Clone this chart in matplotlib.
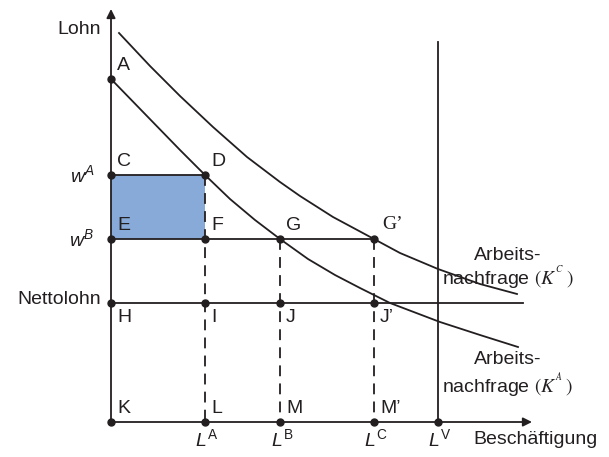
import matplotlib
matplotlib.use("Agg")
import matplotlib.pyplot as plt
from matplotlib.patches import Rectangle

plt.rcParams["font.family"] = ["Liberation Sans", "DejaVu Sans"]
plt.rcParams["mathtext.fontset"] = "custom"
plt.rcParams["mathtext.rm"] = "Liberation Sans"
plt.rcParams["mathtext.it"] = "Liberation Sans:italic"
plt.rcParams["mathtext.bf"] = "Liberation Sans:bold"

# employment levels and wages
L_A, L_B, L_C, L_V = 94, 169, 263, 327
w_A, w_B, w_netto = 247, 183, 119
w_top = 343  # point A

# labour demand curves (employment, wage)
demand_A_L = [0, 34, 69, 94, 119, 144, 169, 197, 224, 249, 279, 329, 369, 407]
demand_A_w = [343, 308, 272, 247, 223, 202, 183, 163, 147, 134, 119, 100, 87, 75]
demand_C_L = [8, 39, 69, 102, 136, 169, 189, 222, 263, 289, 327, 369, 406]
demand_C_w = [389, 356, 326, 295, 265, 240, 226, 205, 183, 169, 153, 138, 128]

x_end, y_end = 421, 413
netto_end = 412
lv_top = 380

ink = "#231f20"
fill = "#87aad8"

fig = plt.figure(figsize=(6.09, 4.57), dpi=100)
ax = fig.add_axes([0, 0, 1, 1])
ax.set_xlim(-111, 498)
ax.set_ylim(-35, 422)
ax.axis("off")

lw = 1.3
fs = 14

# shaded area
ax.add_patch(Rectangle((0, w_B), L_A, w_A - w_B, facecolor=fill, edgecolor="none", zorder=1))

# axes with arrows
ax.annotate("", xy=(0, y_end), xytext=(0, -1), arrowprops=dict(arrowstyle="-|>", lw=lw, color=ink, mutation_scale=13, shrinkA=0, shrinkB=0))
ax.annotate("", xy=(x_end, 0), xytext=(-1, 0), arrowprops=dict(arrowstyle="-|>", lw=lw, color=ink, mutation_scale=13, shrinkA=0, shrinkB=0))

# demand curves
ax.plot(demand_A_L, demand_A_w, color=ink, lw=lw, zorder=3)
ax.plot(demand_C_L, demand_C_w, color=ink, lw=lw, zorder=3)

# horizontal lines
ax.plot([0, L_A], [w_A, w_A], color=ink, lw=lw, zorder=3)
ax.plot([0, L_C], [w_B, w_B], color=ink, lw=lw, zorder=3)
ax.plot([0, netto_end], [w_netto, w_netto], color=ink, lw=lw, zorder=3)

# vertical supply line
ax.plot([L_V, L_V], [0, lv_top], color=ink, lw=lw, zorder=3)

# dashed lines
dash = (0, (6, 4))
ax.plot([L_A, L_A], [w_A, 0], color=ink, lw=lw, ls=dash, zorder=2)
ax.plot([L_B, L_B], [w_B, 0], color=ink, lw=lw, ls=dash, zorder=2)
ax.plot([L_C, L_C], [w_B, 0], color=ink, lw=lw, ls=dash, zorder=2)

# points
pts_x = [0, 0, L_A, 0, L_A, L_B, L_C, 0, L_A, L_B, L_C, 0, L_A, L_B, L_C, L_V]
pts_y = [w_top, w_A, w_A, w_B, w_B, w_B, w_B, w_netto, w_netto, w_netto, w_netto, 0, 0, 0, 0, 0]
ax.plot(pts_x, pts_y, "o", color=ink, ms=5, zorder=5)

# point labels (above right)
above = [("A", 0, w_top), ("C", 0, w_A), ("D", L_A, w_A), ("E", 0, w_B), ("F", L_A, w_B),
         ("G", L_B, w_B), ("K", 0, 0), ("L", L_A, 0), ("M", L_B, 0), ("M’", L_C, 0)]
for name, x, y in above:
    ax.text(x + 6, y + 5, name, fontsize=fs, color=ink, ha="left", va="bottom")
ax.text(L_C + 8, w_B + 6, "G’", fontsize=fs, color=ink, ha="left", va="bottom",
        family=["Liberation Serif", "DejaVu Serif"])
below = [("H", 0, w_netto), ("I", L_A, w_netto), ("J", L_B, w_netto), ("J’", L_C, w_netto)]
for name, x, y in below:
    ax.text(x + 6, y - 6, name, fontsize=fs, color=ink, ha="left", va="top")

# axis labels
ax.text(-10, 392, "Lohn", fontsize=fs, color=ink, ha="right", va="center")
ax.text(-16, w_A, r"$w^{A}$", fontsize=fs, color=ink, ha="right", va="center")
ax.text(-16, w_B, r"$w^{B}$", fontsize=fs, color=ink, ha="right", va="center")
ax.text(-10, w_netto + 3, "Nettolohn", fontsize=fs, color=ink, ha="right", va="center")

for name, x in [("A", L_A), ("B", L_B), ("C", L_C), ("V", L_V)]:
    ax.text(x + 2, -17, r"$L^{\mathrm{%s}}$" % name, fontsize=fs, color=ink, ha="center", va="center")
ax.text(362, -18, "Beschäftigung", fontsize=fs, color=ink, ha="left", va="center")

# curve labels
ax.text(397, 167, "Arbeits-", fontsize=fs, color=ink, ha="center", va="center")
ax.text(397, 145, r"nachfrage $(K^{{}^{C}}\,)$", fontsize=fs, color=ink, ha="center", va="center",
        math_fontfamily="stix")
ax.text(397, 62, "Arbeits-", fontsize=fs, color=ink, ha="center", va="center")
ax.text(397, 37, r"nachfrage $(K^{{}^{A}}\,)$", fontsize=fs, color=ink, ha="center", va="center",
        math_fontfamily="stix")

fig.savefig("out.png", dpi=100)
